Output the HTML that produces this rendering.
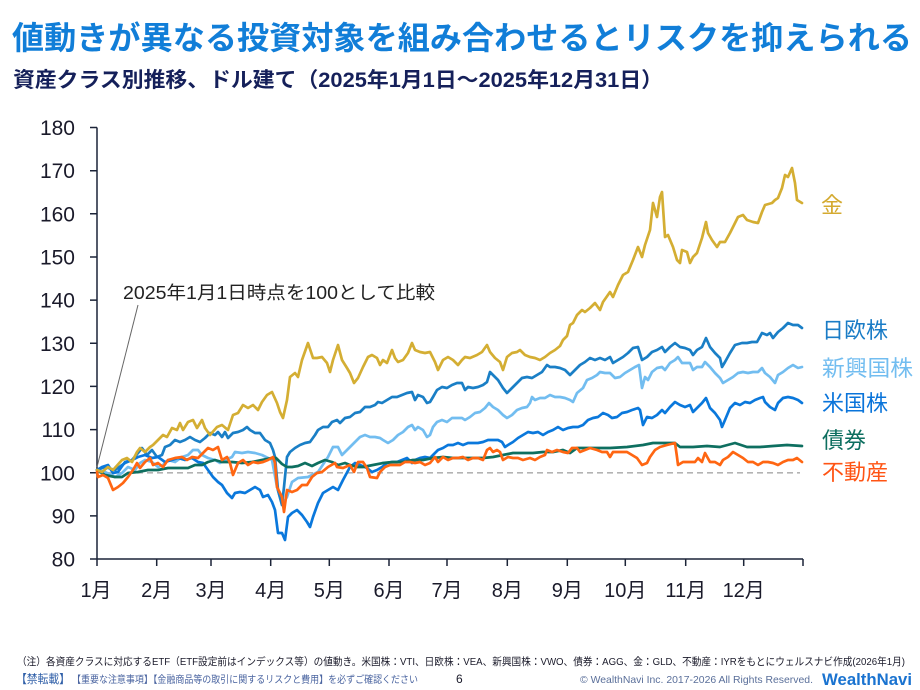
<!DOCTYPE html>
<html><head><meta charset="utf-8"><style>
html,body{margin:0;padding:0;background:#fff;}
svg{display:block;}
.jp{font-family:"Liberation Sans","Noto Sans CJK JP",sans-serif;}
</style></head><body>
<svg width="920" height="690" viewBox="0 0 920 690" xmlns="http://www.w3.org/2000/svg">
<rect width="920" height="690" fill="#fff"/>
<text class="jp" x="12" y="49" font-size="32" font-weight="bold" fill="#117ED8" textLength="900" lengthAdjust="spacingAndGlyphs">値動きが異なる投資対象を組み合わせるとリスクを抑えられる</text>
<text class="jp" x="13" y="87" font-size="21" font-weight="bold" fill="#15205a" textLength="650" lengthAdjust="spacingAndGlyphs">資産クラス別推移、ドル建て（2025年1月1日～2025年12月31日）</text>

<!-- dashed 100 line -->
<line x1="97" y1="472.8" x2="800" y2="472.8" stroke="#b3b3b3" stroke-width="1.6" stroke-dasharray="6,4"/>

<!-- axes -->
<g stroke="#1c2438" stroke-width="1.5" fill="none">
<line x1="97" y1="127.5" x2="97" y2="559"/>
<line x1="97" y1="559" x2="803" y2="559"/>
<path d="M90 127.5H97M90 170.7H97M90 213.8H97M90 257H97M90 300.1H97M90 343.3H97M90 386.4H97M90 429.6H97M90 472.8H97M90 515.9H97M90 559H97"/>
<path d="M97 559V566M156.7 559V566M211 559V566M270.7 559V566M329.3 559V566M389 559V566M447 559V566M507.3 559V566M567.3 559V566M625.3 559V566M685.7 559V566M743.7 559V566M803 559V566"/>
</g>

<g font-family="Liberation Sans, sans-serif" font-size="21" fill="#1a1a2a" text-anchor="end">
<text x="75" y="135">180</text>
<text x="75" y="178.2">170</text>
<text x="75" y="221.3">160</text>
<text x="75" y="264.5">150</text>
<text x="75" y="307.6">140</text>
<text x="75" y="350.8">130</text>
<text x="75" y="393.9">120</text>
<text x="75" y="437.1">110</text>
<text x="75" y="480.3">100</text>
<text x="75" y="523.4">90</text>
<text x="75" y="566.5">80</text>
</g>

<g class="jp" font-size="20" fill="#1a1a2a" text-anchor="middle">
<text x="96" y="597">1月</text>
<text x="156.7" y="597">2月</text>
<text x="211" y="597">3月</text>
<text x="270.7" y="597">4月</text>
<text x="329.3" y="597">5月</text>
<text x="389" y="597">6月</text>
<text x="447" y="597">7月</text>
<text x="507.3" y="597">8月</text>
<text x="567.3" y="597">9月</text>
<text x="625.3" y="597">10月</text>
<text x="685.7" y="597">11月</text>
<text x="743.7" y="597">12月</text>
</g>

<!-- annotation -->
<line x1="97" y1="467" x2="138" y2="305" stroke="#666" stroke-width="1"/>
<text class="jp" x="123" y="299" font-size="18" fill="#222" textLength="312" lengthAdjust="spacingAndGlyphs">2025年1月1日時点を100として比較</text>

<g fill="none" stroke-width="2.7" stroke-linejoin="round" stroke-linecap="round">
<!-- 新興国株 -->
<polyline stroke="#72BDF0" points="97,470 105,472 115,477 122,473 128,467 135,470 140,463 145,460 152,462 158,467 163,465 168,460 175,462 182,457 188,455 193,450 198,450 202,455 208,458 215,460 220,463 225,460 232,457 235,452 242,453 248,452 255,453 262,455 272,460 277,487 282,505 287,497 292,482 298,478 308,477 318,472 328,457 333,447 338,447 342,455 345,452 350,447 355,442 360,437 365,435 370,437 375,437 380,438 383,440 388,443 393,440 398,435 403,432 408,427 412,425 415,430 418,427 423,430 427,437 430,435 433,427 437,422 442,420 447,422 452,418 457,418 462,418 465,420 470,417 475,413 480,412 485,408 489,403 493,407 498,410 503,415 507,418 512,415 517,410 522,408 527,407 530,403 532,397 535,400 540,398 545,398 550,395 555,397 560,397 565,398 570,400 573,402 577,393 583,388 587,380 592,378 597,375 600,372 605,373 610,373 615,378 620,377 625,373 630,370 635,367 639,365 642,388 645,377 648,380 652,372 657,368 662,367 665,370 670,363 675,360 678,357 682,363 687,363 690,363 693,370 697,367 702,367 705,362 710,367 715,373 720,378 723,383 728,380 733,377 738,373 743,372 748,373 753,372 758,372 762,368 765,373 770,377 775,383 778,375 783,372 788,368 793,365 798,368 802,367"/>
<!-- 日欧株 -->
<polyline stroke="#1A7FC6" points="97,470 105,467 115,470 125,463 132,460 138,453 142,448 147,455 152,450 157,457 162,455 165,447 170,445 175,440 180,442 185,440 190,437 195,440 200,442 205,438 210,433 215,435 218,432 222,437 225,432 228,438 233,433 238,432 243,430 247,427 250,430 255,433 260,433 265,440 270,443 273,450 275,457 278,490 282,505 284,487 287,457 290,452 295,448 300,445 305,443 310,442 315,435 318,430 323,427 328,427 332,422 337,420 340,423 345,418 350,417 355,413 360,412 365,407 370,407 375,405 378,402 382,403 387,400 392,397 397,397 402,395 407,393 412,392 415,400 418,395 423,397 427,403 430,402 433,397 437,390 442,387 447,388 452,385 457,383 462,383 465,390 468,387 473,388 478,387 483,385 487,382 490,372 493,375 498,380 503,388 507,393 512,388 517,383 522,378 527,377 532,378 537,375 542,372 547,365 550,367 555,367 560,368 565,370 570,375 575,370 580,365 585,362 590,358 595,360 600,358 605,360 610,357 613,363 618,360 623,357 628,353 633,348 638,347 642,360 647,357 652,352 657,350 662,347 665,352 670,347 675,343 680,347 685,348 690,350 693,355 697,350 702,347 706,338 710,347 715,353 720,358 722,367 725,362 730,353 735,345 742,343 747,343 752,342 757,342 762,333 767,335 770,333 773,338 778,332 783,328 788,323 793,325 798,325 802,328"/>
<!-- 米国株 -->
<polyline stroke="#0A78DC" points="97,470 102,467 108,465 113,473 118,472 125,462 132,460 138,457 145,455 152,458 158,457 165,462 172,460 178,458 185,460 192,458 198,462 203,463 208,470 213,477 218,482 222,485 227,493 232,498 235,493 240,492 245,493 250,490 255,487 260,490 263,497 268,495 272,502 275,510 278,533 282,533 285,540 288,517 292,513 297,510 302,515 307,522 310,527 313,517 318,503 323,493 328,490 333,487 338,490 343,480 350,467 355,463 360,465 367,468 372,472 377,470 382,467 387,463 392,462 397,462 402,460 407,458 412,463 415,460 420,458 425,457 430,458 433,455 438,450 443,448 448,445 453,445 458,443 463,445 468,443 473,443 478,443 483,442 488,440 493,440 498,440 502,442 505,447 508,445 513,442 518,438 523,435 528,432 533,433 538,432 543,435 548,432 553,430 558,427 563,430 568,428 573,427 578,427 583,425 588,420 593,418 598,417 603,413 608,415 612,418 617,417 622,413 627,412 632,410 638,408 640,410 643,425 647,417 652,418 657,415 662,410 665,413 670,407 675,402 680,405 685,407 690,405 693,412 697,408 702,403 706,398 710,408 715,413 720,420 722,427 725,420 730,408 735,403 740,405 745,402 750,403 755,400 760,398 763,397 765,402 770,407 775,410 778,403 783,398 788,397 793,398 798,400 802,403"/>
<!-- 債券 -->
<polyline stroke="#0E6F60" points="97,470 105,475 115,477 122,477 128,473 138,472 148,470 158,470 168,468 178,468 188,468 195,465 202,465 208,462 215,460 222,462 232,462 242,463 252,462 262,460 272,458 276,458 282,464 287,467 292,467 298,466 305,463 312,466 318,463 325,460 332,462 338,465 345,463 350,465 357,467 363,467 373,465 383,463 393,462 403,462 413,460 423,460 433,458 443,457 453,458 463,458 473,458 483,458 493,457 503,455 513,453 523,453 533,453 543,452 553,452 563,450 570,453 577,448 593,448 610,448 627,447 643,445 653,443 667,443 675,443 680,447 693,447 707,446 720,447 735,443 747,447 760,447 773,446 787,445 802,446"/>
<!-- 金 -->
<polyline stroke="#D4AE33" points="97,470 102,472 108,467 113,470 122,460 127,458 132,462 137,452 140,448 145,452 150,447 153,445 158,440 163,435 167,437 172,428 177,430 180,423 183,430 188,422 193,420 197,428 202,420 205,428 210,435 217,427 222,425 228,430 233,415 238,413 243,405 248,408 253,405 258,410 262,402 267,395 272,392 277,403 280,412 283,418 287,400 290,377 295,373 298,377 302,360 308,343 313,358 317,358 322,357 327,363 330,372 333,360 338,345 342,360 347,368 350,373 354,383 358,378 363,367 368,357 372,355 377,358 380,365 383,360 387,363 392,350 395,358 398,362 403,360 408,353 412,343 415,350 420,352 425,353 430,352 435,362 438,370 443,360 448,357 453,360 458,365 462,360 465,357 470,358 477,355 482,352 487,345 490,352 495,358 500,362 503,370 507,357 512,353 517,352 520,350 525,355 530,357 535,358 540,360 545,357 550,353 555,350 560,346 563,340 567,336 570,325 573,323 577,315 582,310 585,312 590,308 595,303 600,310 603,302 610,292 613,297 618,285 623,275 628,272 633,260 638,247 642,257 645,245 650,230 653,203 657,217 660,197 662,192 665,237 668,235 673,247 677,260 680,263 682,250 687,252 690,263 693,257 697,253 702,238 706,222 708,233 712,240 717,247 720,242 725,242 730,233 733,227 738,217 743,215 747,220 753,222 758,223 762,212 765,205 772,203 775,200 778,198 782,188 785,175 788,177 792,168 795,183 797,200 802,203"/>
<!-- 不動産 -->
<polyline stroke="#FF6612" points="97,472 98,477 103,475 108,478 113,490 118,487 123,483 128,477 133,470 137,463 140,468 145,462 150,458 153,465 158,463 163,467 168,460 175,458 182,457 187,460 192,457 198,458 203,453 208,448 213,450 218,447 222,460 227,457 230,463 233,475 238,463 243,460 248,465 253,462 258,463 263,462 268,460 273,457 275,463 277,487 282,497 284,512 287,490 292,492 297,490 302,485 307,485 312,477 317,473 322,472 328,467 335,463 337,467 343,468 350,465 354,472 358,462 363,462 367,468 370,477 377,478 380,472 385,467 390,465 395,465 400,465 405,462 410,462 415,463 420,462 425,465 430,463 435,457 438,462 443,457 448,460 453,458 458,458 463,457 468,460 473,458 478,458 483,460 487,450 490,448 493,452 497,450 500,452 503,460 508,457 513,458 518,458 523,460 530,458 535,460 540,457 545,455 547,450 552,452 557,450 563,452 568,453 572,448 577,448 580,452 585,450 590,448 597,450 602,452 607,452 610,457 613,452 620,452 627,452 632,455 637,458 642,465 647,463 650,457 655,450 660,447 667,445 675,443 677,457 678,465 683,462 690,462 695,462 698,458 702,462 705,453 710,462 715,462 720,465 723,460 728,457 733,452 738,455 743,458 748,462 753,462 758,465 763,462 768,462 773,463 778,465 783,462 788,460 793,460 797,458 802,462"/>
</g>

<!-- legend labels -->
<g class="jp" font-size="22">
<text x="821" y="213" fill="#D4AA30">金</text>
<text x="822" y="338" fill="#1A7CC6">日欧株</text>
<text x="822" y="376" fill="#72BDF0" textLength="91" lengthAdjust="spacingAndGlyphs">新興国株</text>
<text x="822" y="411" fill="#0A74DA">米国株</text>
<text x="822" y="448" fill="#0E6F60">債券</text>
<text x="822" y="480" fill="#FF5414">不動産</text>
</g>

<!-- footer -->
<text class="jp" x="17" y="665" font-size="10.5" fill="#1a1a2a" textLength="888" lengthAdjust="spacingAndGlyphs">（注）各資産クラスに対応するETF（ETF設定前はインデックス等）の値動き。米国株：VTI、日欧株：VEA、新興国株：VWO、債券：AGG、金：GLD、不動産：IYRをもとにウェルスナビ作成(2026年1月)</text>
<text class="jp" x="16" y="683" font-size="12" fill="#2f5fa8" textLength="54" lengthAdjust="spacingAndGlyphs">【禁転載】</text>
<text class="jp" x="72" y="683" font-size="10" fill="#4a64a0" textLength="346" lengthAdjust="spacingAndGlyphs">【重要な注意事項】【金融商品等の取引に関するリスクと費用】を必ずご確認ください</text>
<text x="456" y="683" font-family="Liberation Sans, sans-serif" font-size="12" fill="#1a1a2a">6</text>
<text x="580" y="683" font-family="Liberation Sans, sans-serif" font-size="10.5" fill="#5a6f9a" textLength="233" lengthAdjust="spacingAndGlyphs">© WealthNavi Inc. 2017-2026 All Rights Reserved.</text>
<text x="822" y="685" font-family="Liberation Sans, sans-serif" font-size="17" font-weight="bold" fill="#1a73d0" textLength="90" lengthAdjust="spacingAndGlyphs">WealthNavi</text>
</svg>
</body></html>
